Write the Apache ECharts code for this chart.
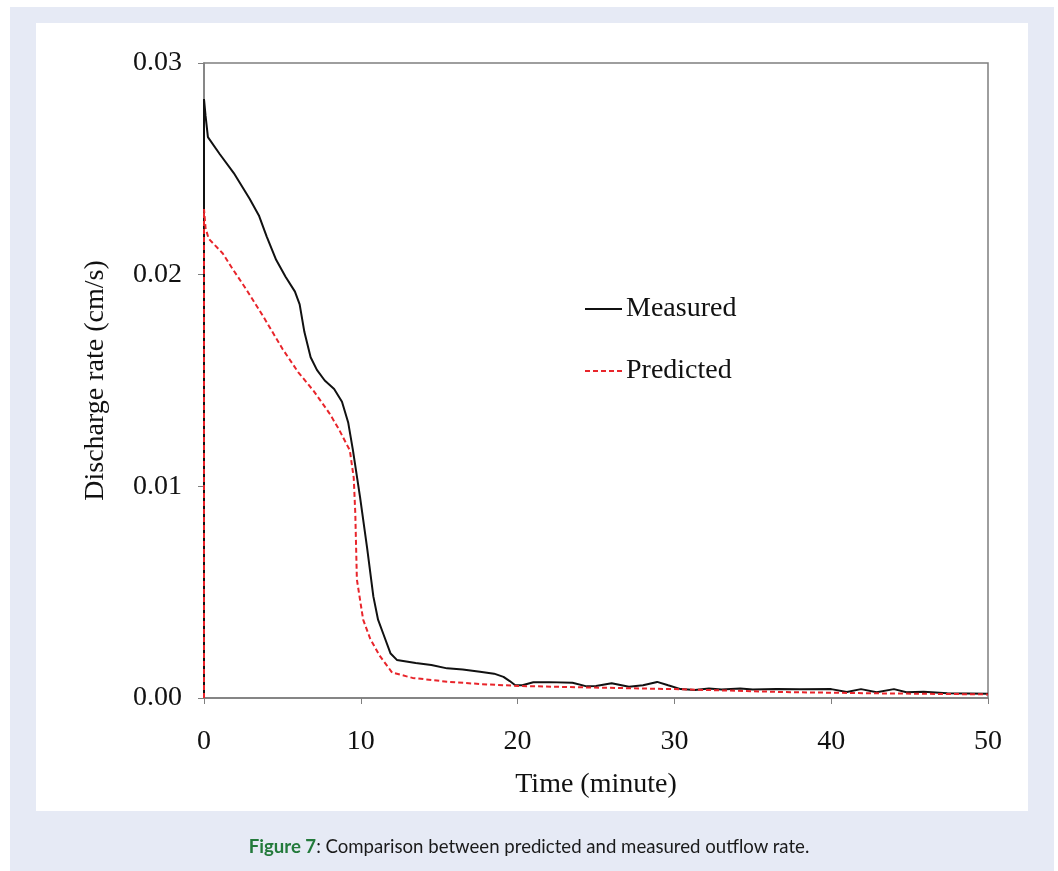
<!DOCTYPE html>
<html>
<head>
<meta charset="utf-8">
<script src="https://cdn.jsdelivr.net/npm/echarts@6/dist/echarts.min.js"></script>
<style>
  html, body { margin: 0; padding: 0; background: #ffffff; }
  #frame { position: absolute; left: 10px; top: 7px; width: 1044px; height: 864px; background: #e6eaf5; }
  #panel { position: absolute; left: 36px; top: 23px; width: 992px; height: 788px; background: #ffffff; }
  #chart { position: absolute; left: 0; top: 0; width: 1058px; height: 871px; }
  #caption { position: absolute; left: 0; top: 835px; width: 1058px; text-align: center;
             font-family: Lato, "Noto Sans", sans-serif; font-size: 18.6px; color: #1a1a1a; }
  #caption b { color: #237a3b; }
</style>
</head>
<body>
<div id="frame"></div>
<div id="panel"></div>
<div id="chart"></div>
<div id="caption"><b>Figure 7</b>: Comparison between predicted and measured outflow rate.</div>
<script>
// Outflow (discharge) rate over time: [minute, cm/s]
const measured = [
  [0, 0], [0, 0.0283], [0.1, 0.0275], [0.25, 0.0265], [1, 0.0257], [1.9, 0.0248],
  [2.9, 0.0236], [3.5, 0.0228], [4, 0.0218], [4.6, 0.0207], [5.2, 0.0199], [5.8, 0.0192],
  [6.1, 0.0186], [6.4, 0.0173], [6.8, 0.0161], [7.2, 0.0155], [7.7, 0.0150], [8.3, 0.0146],
  [8.8, 0.0140], [9.2, 0.0130], [9.5, 0.0117], [9.95, 0.0095], [10.4, 0.0071], [10.8, 0.0048],
  [11.1, 0.0037], [11.45, 0.0030], [11.9, 0.0021], [12.3, 0.0018], [13.5, 0.00165],
  [14.5, 0.00156], [15.5, 0.0014], [16.5, 0.00135], [17.6, 0.00124], [18.5, 0.00115],
  [19.1, 0.0010], [19.5, 0.0008], [19.85, 0.0006], [20.3, 0.0006], [21, 0.00074],
  [22, 0.00075], [23.5, 0.00072], [24.4, 0.00055], [25, 0.00057], [26, 0.0007],
  [27.1, 0.00053], [28, 0.0006], [28.9, 0.00076], [29.6, 0.0006], [30.4, 0.00042],
  [31.3, 0.00038], [32.2, 0.00045], [33, 0.0004], [34.2, 0.00045], [35, 0.0004],
  [36.5, 0.00042], [38, 0.00041], [40, 0.00042], [41, 0.00028], [41.9, 0.00042],
  [42.9, 0.00027], [44, 0.00042], [44.8, 0.00027], [45.9, 0.0003], [47.4, 0.00022],
  [50, 0.0002]
];

const predicted = [
  [0, 0], [0, 0.0231], [0.1, 0.0222], [0.3, 0.0217], [1.2, 0.0210], [1.8, 0.0203],
  [2.7, 0.0193], [3.8, 0.0180], [5, 0.0165], [6, 0.0154], [7, 0.0145], [8, 0.01345],
  [8.6, 0.0127], [9.3, 0.0117], [9.55, 0.0104], [9.65, 0.0087], [9.75, 0.0056],
  [10.15, 0.0037], [10.6, 0.0028], [11.2, 0.0020], [12, 0.0012], [13.3, 0.00095],
  [15.5, 0.00077], [17.6, 0.00066], [20, 0.00057], [24.4, 0.0005], [30, 0.00042],
  [37, 0.00028], [43, 0.00022], [50, 0.00017]
];

const xTicks = { min: 0, max: 50, interval: 10 };
const yTicks = { min: 0, max: 0.03, interval: 0.01 };

const serif = '"Liberation Serif", "Times New Roman", serif';
const axisGray = '#7f7f7f';

const chart = echarts.init(document.getElementById('chart'), null, { renderer: 'canvas' });
chart.setOption({
  backgroundColor: 'transparent',
  animation: false,
  grid: {
    left: 204, right: 70, top: 63, bottom: 173,
    show: true, borderColor: axisGray, borderWidth: 1.5, backgroundColor: 'transparent'
  },
  legend: {
    orient: 'vertical',
    left: 579, top: 290,
    itemWidth: 37, itemHeight: 14, itemGap: 34,
    itemStyle: { opacity: 0 },
    textStyle: { fontFamily: serif, fontSize: 28, color: '#111', padding: [0, 0, 0, -1] },
    data: ['Measured', 'Predicted']
  },
  xAxis: {
    type: 'value',
    min: xTicks.min, max: xTicks.max, interval: xTicks.interval,
    name: 'Time (minute)', nameLocation: 'middle', nameGap: 73,
    nameTextStyle: { fontFamily: serif, fontSize: 28, color: '#111' },
    axisLine: { lineStyle: { color: axisGray, width: 1.5 } },
    axisTick: { inside: false, length: 6, lineStyle: { color: axisGray, width: 1 } },
    axisLabel: { margin: 30, fontFamily: serif, fontSize: 28, color: '#111' },
    splitLine: { show: false }
  },
  yAxis: {
    type: 'value',
    min: yTicks.min, max: yTicks.max, interval: yTicks.interval,
    name: 'Discharge rate (cm/s)', nameLocation: 'middle', nameGap: 94,
    nameTextStyle: { fontFamily: serif, fontSize: 28, color: '#111' },
    axisLine: { lineStyle: { color: axisGray, width: 1.5 } },
    axisTick: { inside: false, length: 6, lineStyle: { color: axisGray, width: 1 } },
    axisLabel: { margin: 22, fontFamily: serif, fontSize: 28, color: '#111',
                 formatter: v => v.toFixed(2) },
    splitLine: { show: false }
  },
  series: [
    {
      name: 'Measured', type: 'line', data: measured,
      symbol: 'none', smooth: false, z: 3,
      lineStyle: { color: '#111111', width: 2 },
      itemStyle: { color: '#111111' }
    },
    {
      name: 'Predicted', type: 'line', data: predicted,
      symbol: 'none', smooth: false, z: 4,
      lineStyle: { color: '#e8252b', width: 2, type: [5, 3] },
      itemStyle: { color: '#e8252b' }
    }
  ]
});
</script>
</body>
</html>
